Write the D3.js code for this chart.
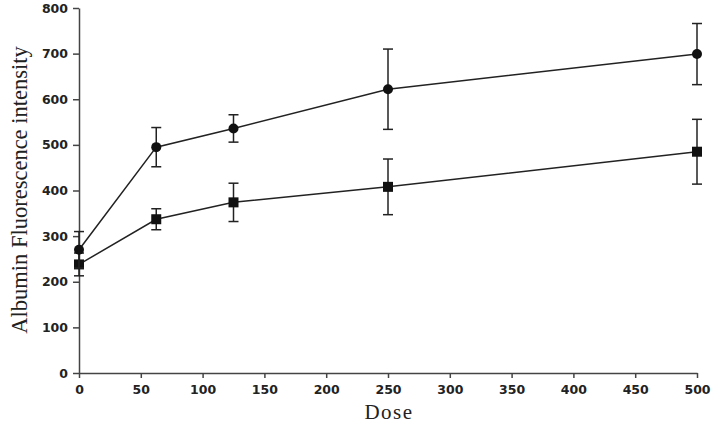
<!DOCTYPE html>
<html>
<head>
<meta charset="utf-8">
<script src="https://cdn.jsdelivr.net/npm/d3@7"></script>
<style>
	body { margin: 0; background: #fff; }
	.tick text { font-family: "DejaVu Sans", Arial, sans-serif; font-weight: bold; font-size: 12.5px; fill: #222; }
	.axis path, .axis line { stroke: #444; stroke-width: 1.5; }
	.axis-title { font-family: "Liberation Serif", "Times New Roman", serif; fill: #222; }
</style>
</head>
<body>
<div id="chart"></div>
<script>
// dose levels and mean +/- error for the two groups
const doses = [0, 62.5, 125, 250, 500]
const circleMean = [270, 495, 536, 622, 699]
const circleErr = [40, 43, 30, 88, 67]
const squareMean = [238, 337, 374, 408, 485]
const squareErr = [25, 23, 42, 61, 71]
const xTicks = [0, 50, 100, 150, 200, 250, 300, 350, 400, 450, 500]
const yTicks = [0, 100, 200, 300, 400, 500, 600, 700, 800]

const W = 715, H = 426
const m = { left: 79, top: 8, right: 18, bottom: 53 }

const svg = d3.select("#chart").append("svg").attr("width", W).attr("height", H)

const xs = d3.scaleLinear().domain([0, 500]).range([m.left, W - m.right])
const ys = d3.scaleLinear().domain([0, 800]).range([H - m.bottom, m.top])

svg.append("g").attr("class", "axis")
	.attr("transform", `translate(0,${H - m.bottom})`)
	.call(d3.axisBottom(xs).tickValues(xTicks).tickSize(5).tickPadding(7).tickSizeOuter(0))

svg.append("g").attr("class", "axis")
	.attr("transform", `translate(${m.left},0)`)
	.call(d3.axisLeft(ys).tickValues(yTicks).tickSize(6).tickPadding(5).tickSizeOuter(0))

svg.selectAll(".axis .domain").attr("stroke", "#444")

svg.append("text").attr("class", "axis-title")
	.attr("x", 389).attr("y", 419)
	.attr("text-anchor", "middle").style("font-size", "21px").style("letter-spacing", "1.5px")
	.text("Dose")

svg.append("text").attr("class", "axis-title")
	.attr("transform", "translate(27,190) rotate(-90)")
	.attr("text-anchor", "middle").style("font-size", "22.5px")
	.text("Albumin Fluorescence intensity")

const drawSeries = (mean, err, shape) => {
	const pts = doses.map((d, i) => ({ x: d, y: mean[i], e: err[i] }))
	const g = svg.append("g")
	g.append("path").datum(pts)
		.attr("fill", "none").attr("stroke", "#222").attr("stroke-width", 1.5)
		.attr("d", d3.line().x(d => xs(d.x)).y(d => ys(d.y)))

	const eb = g.selectAll(".eb").data(pts).enter().append("g").attr("stroke", "#222").attr("stroke-width", 1.5)
	eb.append("line").attr("x1", d => xs(d.x)).attr("x2", d => xs(d.x))
		.attr("y1", d => ys(d.y - d.e)).attr("y2", d => ys(d.y + d.e))
	eb.append("line").attr("x1", d => xs(d.x) - 5).attr("x2", d => xs(d.x) + 5)
		.attr("y1", d => ys(d.y + d.e)).attr("y2", d => ys(d.y + d.e))
	eb.append("line").attr("x1", d => xs(d.x) - 5).attr("x2", d => xs(d.x) + 5)
		.attr("y1", d => ys(d.y - d.e)).attr("y2", d => ys(d.y - d.e))

	if (shape === "circle") {
		g.selectAll(".mk").data(pts).enter().append("circle")
			.attr("cx", d => xs(d.x)).attr("cy", d => ys(d.y)).attr("r", 5).attr("fill", "#111")
	} else {
		g.selectAll(".mk").data(pts).enter().append("rect")
			.attr("x", d => xs(d.x) - 5).attr("y", d => ys(d.y) - 5)
			.attr("width", 10).attr("height", 10).attr("fill", "#111")
	}
}

drawSeries(squareMean, squareErr, "square")
drawSeries(circleMean, circleErr, "circle")
</script>
</body>
</html>
